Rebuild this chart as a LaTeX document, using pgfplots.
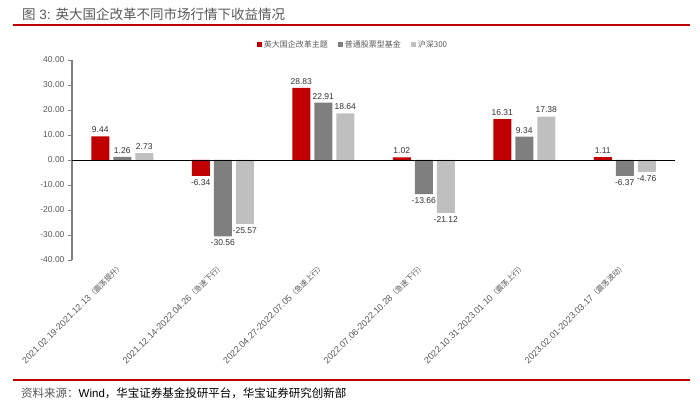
\documentclass[border=0pt]{standalone}
\usepackage{pgfplots}
\pgfplotsset{compat=1.18}
\usepackage{fontspec}
\setmainfont{Liberation Sans}
\newfontfamily\cjk{Noto Sans CJK SC}
\definecolor{hred}{HTML}{C00000}
\definecolor{hgray}{HTML}{7F7F7F}
\definecolor{hlight}{HTML}{BFBFBF}
\definecolor{txtgray}{HTML}{595959}
\definecolor{axgray}{HTML}{808080}
\begin{document}
\begin{tikzpicture}
\useasboundingbox (0pt,0pt) rectangle (700pt,406pt);
\node[anchor=west, text=txtgray, font=\fontsize{13.5}{15}\selectfont, inner sep=0pt] at (22pt,392pt) {{\cjk 图} 3: {\cjk 英大国企改革不同市场行情下收益情况}};
\draw[hred, line width=2pt] (13pt,381pt) -- (690pt,381pt);
\draw[hred, line width=2pt] (13pt,26pt) -- (690pt,26pt);
\node[anchor=west, font=\fontsize{11.5}{13}\selectfont, inner sep=0pt] at (21pt,13pt) {{\cjk\color{txtgray}资料来源：}Wind{\cjk ，华宝证券基金投研平台，华宝证券研究创新部}};
\begin{axis}[
  at={(72pt,146pt)}, anchor=south west, scale only axis,
  width=603pt, height=200pt,
  ybar=4pt, bar width=18pt,
  xmin=-0.5, xmax=5.5, ymin=-40, ymax=40,
  ytick={-40,-30,...,40},
  xtick={0,...,5},
  xticklabels={
    2021.02.19-2021.12.13{\cjk\fontsize{7.5}{8}\selectfont（震荡提升）},
    2021.12.14-2022.04.26{\cjk\fontsize{7.5}{8}\selectfont（急速下行）},
    2022.04.27-2022.07.05{\cjk\fontsize{7.5}{8}\selectfont（急速上行）},
    2022.07.06-2022.10.28{\cjk\fontsize{7.5}{8}\selectfont（急速下行）},
    2022.10.31-2023.01.10{\cjk\fontsize{7.5}{8}\selectfont（震荡上行）},
    2023.02.01-2023.03.17{\cjk\fontsize{7.5}{8}\selectfont（震荡波动）}},
  xticklabel style={rotate=45, anchor=east, font=\fontsize{9}{10}\selectfont, text=txtgray, inner sep=1pt},
  yticklabel style={font=\fontsize{8.5}{10}\selectfont, text=txtgray},
  /pgf/number format/fixed, /pgf/number format/fixed zerofill,
  /pgf/number format/precision=2, /pgf/number format/assume math mode=true,
  axis y line*=left, axis x line*=bottom,
  x axis line style={draw=none}, xtick style={draw=none},
  y axis line style={axgray, line width=1.2pt, -},
  ytick style={axgray, line width=0.8pt},
  tick align=outside, major tick length=4pt,
  nodes near coords,
  every node near coord/.append style={font=\fontsize{8.5}{10}\selectfont, text=black!80},
  clip=false,
  legend columns=3,
  legend style={draw=none, at={(0.466,1.075)}, anchor=center, font=\cjk\fontsize{8}{9}\selectfont, text=txtgray,
    /tikz/every even column/.append style={column sep=8pt}},
  legend image code/.code={\fill[#1] (0pt,-2.5pt) rectangle (5pt,2.5pt);},
]
\addplot[fill=hred, draw=none] coordinates {(0,9.44) (1,-6.34) (2,28.83) (3,1.02) (4,16.31) (5,1.11)};
\addplot[fill=hgray, draw=none] coordinates {(0,1.26) (1,-30.56) (2,22.91) (3,-13.66) (4,9.34) (5,-6.37)};
\addplot[fill=hlight, draw=none] coordinates {(0,2.73) (1,-25.57) (2,18.64) (3,-21.12) (4,17.38) (5,-4.76)};
\legend{英大国企改革主题, 普通股票型基金, 沪深300}
\draw[black, line width=0.8pt] (axis cs:-0.5,0) -- (axis cs:5.5,0);
\end{axis}
\end{tikzpicture}
\end{document}
